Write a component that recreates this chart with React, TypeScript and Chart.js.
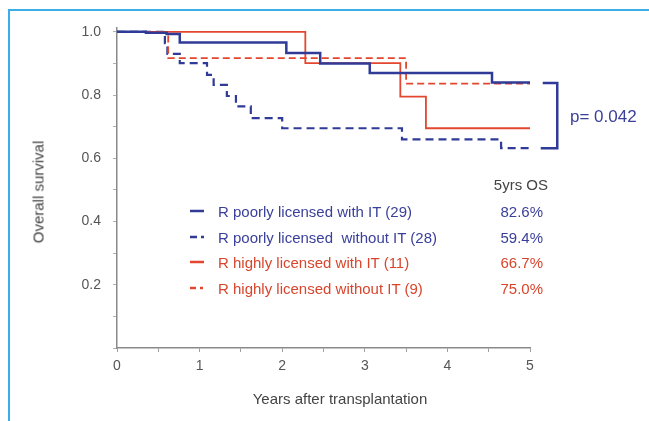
import React, { useEffect, useRef } from "react";
import { Chart, registerables } from "chart.js";
Chart.register(...registerables);

// Kaplan-Meier step data (time in years, survival probability)
const poorWithITTimes = [0, 0.35, 0.6, 0.76, 2.05, 2.46, 3.06, 4.54, 5.0];
const poorWithITSurv = [1.0, 0.997, 0.993, 0.966, 0.933, 0.9, 0.87, 0.84, 0.84];

const poorWithoutITTimes = [0, 0.58, 0.61, 0.76, 1.09, 1.17, 1.33, 1.44, 1.62, 2.0, 3.45, 4.65, 5.0];
const poorWithoutITSurv = [1.0, 0.964, 0.93, 0.901, 0.864, 0.832, 0.797, 0.764, 0.727, 0.695, 0.66, 0.632, 0.632];

const highWithITTimes = [0, 2.28, 3.43, 3.74, 5.0];
const highWithITSurv = [1.0, 0.901, 0.795, 0.695, 0.695];

const highWithoutITTimes = [0, 0.62, 3.5, 5.0];
const highWithoutITSurv = [1.0, 0.917, 0.836, 0.836];

const yTickValues = [0, 0.1, 0.2, 0.3, 0.4, 0.5, 0.6, 0.7, 0.8, 0.9, 1.0];
const yTickLabels = ["", "", "0.2", "", "0.4", "", "0.6", "", "0.8", "", "1.0"];

const legendLabels = [
  "R poorly licensed with IT (29)",
  "R poorly licensed  without IT (28)",
  "R highly licensed with IT (11)",
  "R highly licensed without IT (9)",
];
const fiveYearOS = ["82.6%", "59.4%", "66.7%", "75.0%"];
const pValueText = "p= 0.042";
const bracketX = [5.13, 5.33];
const bracketY = [0.838, 0.632];

const BLUE = "#2f3b96";
const RED = "#e3472f";
const BLUE_TEXT = "#3a3f9a";
const RED_TEXT = "#d8452c";
const FONT = '"Liberation Sans", Arial, sans-serif';

const toPoints = (t: number[], s: number[]) => t.map((x, i) => ({ x, y: s[i] }));

export default function App() {
  const ref = useRef<HTMLCanvasElement | null>(null);

  useEffect(() => {
    if (!ref.current) return;
    const bracketPlugin = {
      id: "bracket",
      afterDatasetsDraw(chart: any) {
        const { ctx, scales } = chart;
        const x0 = scales.x.getPixelForValue(bracketX[0]);
        const x1 = scales.x.getPixelForValue(bracketX[1]);
        const y0 = scales.y.getPixelForValue(bracketY[0]);
        const y1 = scales.y.getPixelForValue(bracketY[1]);
        ctx.save();
        ctx.strokeStyle = BLUE;
        ctx.lineWidth = 2.5;
        ctx.beginPath();
        ctx.moveTo(x0 + 2, y0);
        ctx.lineTo(x1, y0);
        ctx.lineTo(x1, y1);
        ctx.lineTo(x0, y1);
        ctx.stroke();
        ctx.restore();
      },
    };
    const chart = new Chart(ref.current, {
      type: "line",
      data: {
        datasets: [
          {
            data: toPoints(poorWithITTimes, poorWithITSurv),
            borderColor: BLUE,
            borderWidth: 2.5,
            stepped: true,
            pointRadius: 0,
            fill: false,
          },
          {
            data: toPoints(highWithITTimes, highWithITSurv),
            borderColor: RED,
            borderWidth: 1.8,
            stepped: true,
            pointRadius: 0,
            fill: false,
          },
          {
            data: toPoints(highWithoutITTimes, highWithoutITSurv),
            borderColor: RED,
            borderWidth: 1.8,
            borderDash: [7, 4],
            stepped: true,
            pointRadius: 0,
            fill: false,
          },
          {
            data: toPoints(poorWithoutITTimes, poorWithoutITSurv),
            borderColor: BLUE,
            borderWidth: 2.2,
            borderDash: [8, 5],
            stepped: true,
            pointRadius: 0,
            fill: false,
          },
        ],
      } as any,
      options: {
        animation: false,
        responsive: false,
        maintainAspectRatio: false,
        devicePixelRatio: 1,
        layout: { padding: { left: 77, right: 119, top: 28, bottom: 43 } },
        plugins: { legend: { display: false }, tooltip: { enabled: false } },
        scales: {
          x: {
            type: "linear",
            min: 0,
            max: 5,
            border: { color: "#8a8a8a", width: 1.5 },
            grid: { drawOnChartArea: false, drawTicks: true, tickLength: 4, color: "#a0a0a0" },
            ticks: {
              stepSize: 0.5,
              autoSkip: false,
              maxRotation: 0,
              padding: 6,
              color: "#555",
              font: { family: FONT, size: 14 },
              callback: (v: any) => (Number.isInteger(Number(v)) ? String(v) : ""),
            },
            afterFit: (s: any) => {
              s.height = 30;
              s.paddingLeft = 0;
              s.paddingRight = 0;
            },
          },
          y: {
            type: "linear",
            min: 0,
            max: 1.012,
            border: { color: "#8a8a8a", width: 1.5 },
            grid: { drawOnChartArea: false, drawTicks: true, tickLength: 4, color: "#b0b0b0" },
            afterBuildTicks: (s: any) => {
              s.ticks = yTickValues.map((value) => ({ value }));
            },
            ticks: {
              autoSkip: false,
              padding: 12,
              color: "#555",
              font: { family: FONT, size: 14 },
              callback: (_v: any, i: number) => yTickLabels[i] ?? "",
            },
            afterFit: (s: any) => {
              s.width = 40;
              s.paddingTop = 0;
              s.paddingBottom = 0;
            },
          },
        },
      } as any,
      plugins: [bracketPlugin],
    });
    return () => chart.destroy();
  }, []);

  const rowY = [211, 237, 262, 288];
  const colors = [BLUE_TEXT, BLUE_TEXT, RED_TEXT, RED_TEXT];
  const lineColors = [BLUE, BLUE, RED, RED];
  const dashes = ["", "7,4,3,20", "", "6,4,3,20"];

  return (
    <div
      style={{
        position: "fixed",
        left: 0,
        top: 0,
        width: 649,
        height: 421,
        background: "#fff",
        overflow: "hidden",
        fontFamily: FONT,
      }}
    >
      <div
        style={{
          position: "absolute",
          left: 8,
          top: 9,
          right: 0,
          bottom: 0,
          borderTop: "2px solid #3aaee6",
          borderLeft: "2px solid #3aaee6",
        }}
      />
      <canvas ref={ref} width={649} height={421} style={{ position: "absolute", left: 0, top: 0 }} />
      <div
        style={{
          position: "absolute",
          left: 38,
          top: 192,
          transform: "translate(-50%, -50%) rotate(-90deg)",
          whiteSpace: "nowrap",
          fontSize: 15,
          color: "#444",
        }}
      >
        Overall survival
      </div>
      <div
        style={{
          position: "absolute",
          left: 340,
          top: 398,
          transform: "translate(-50%, -50%)",
          whiteSpace: "nowrap",
          fontSize: 15,
          color: "#444",
        }}
      >
        Years after transplantation
      </div>
      <div
        style={{
          position: "absolute",
          right: 649 - 548,
          top: 184,
          transform: "translateY(-50%)",
          whiteSpace: "nowrap",
          fontSize: 15,
          color: "#444",
        }}
      >
        5yrs OS
      </div>
      {legendLabels.map((lab, i) => (
        <React.Fragment key={i}>
          <svg
            width={16}
            height={6}
            style={{ position: "absolute", left: 189, top: rowY[i] - 3 }}
          >
            <line
              x1={1}
              y1={3}
              x2={15}
              y2={3}
              stroke={lineColors[i]}
              strokeWidth={2.5}
              strokeDasharray={dashes[i] || undefined}
            />
          </svg>
          <div
            style={{
              position: "absolute",
              left: 218,
              top: rowY[i],
              transform: "translateY(-50%)",
              whiteSpace: "pre",
              fontSize: 15,
              color: colors[i],
            }}
          >
            {lab}
          </div>
          <div
            style={{
              position: "absolute",
              right: 649 - 543,
              top: rowY[i],
              transform: "translateY(-50%)",
              whiteSpace: "nowrap",
              fontSize: 15,
              color: colors[i],
            }}
          >
            {fiveYearOS[i]}
          </div>
        </React.Fragment>
      ))}
      <div
        style={{
          position: "absolute",
          left: 570,
          top: 117,
          transform: "translateY(-50%)",
          whiteSpace: "nowrap",
          fontSize: 17,
          color: BLUE_TEXT,
        }}
      >
        {pValueText}
      </div>
    </div>
  );
}
